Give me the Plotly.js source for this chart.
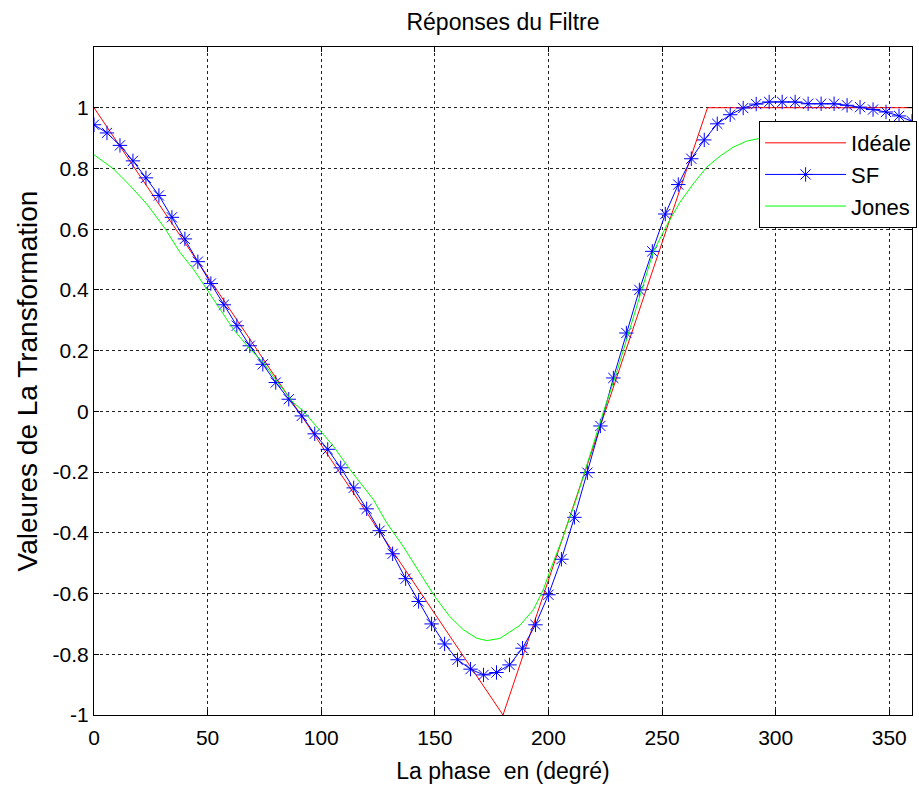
<!DOCTYPE html>
<html>
<head>
<meta charset="utf-8">
<script src="https://cdn.plot.ly/plotly-3.0.1.min.js"></script>
<style>html,body{margin:0;padding:0;background:#fff;}#chart{width:919px;height:789px;}</style>
</head>
<body>
<div id="chart"></div>
<script>
// Phase (degrees) for the ideal response
const idealX = [0, 30, 60, 90, 120, 150, 180, 195, 210, 225, 240, 255, 270, 300, 330, 360];
const idealY = [1, 0.667, 0.333, 0, -0.333, -0.667, -1, -0.667, -0.333, 0, 0.333, 0.667, 1, 1, 1, 1];

// SF series (markers)
const sfX = [0, 5.71, 11.43, 17.14, 22.86, 28.57, 34.29, 40, 45.71, 51.43, 57.14, 62.86, 68.57, 74.29, 80, 85.71,
  91.43, 97.14, 102.86, 108.57, 114.29, 120, 125.71, 131.43, 137.14, 142.86, 148.57, 154.29, 160, 165.71, 171.43, 177.14,
  182.86, 188.57, 194.29, 200, 205.71, 211.43, 217.14, 222.86, 228.57, 234.29, 240, 245.71, 251.43, 257.14, 262.86, 268.57,
  274.29, 280, 285.71, 291.43, 297.14, 302.86, 308.57, 314.29, 320, 325.71, 331.43, 337.14, 342.86, 348.57, 354.29, 360];
const sfY = [0.944, 0.917, 0.876, 0.825, 0.769, 0.711, 0.639, 0.568, 0.493, 0.421, 0.351, 0.282, 0.216, 0.155, 0.095, 0.040,
  -0.015, -0.074, -0.125, -0.186, -0.252, -0.321, -0.393, -0.469, -0.551, -0.626, -0.700, -0.766, -0.818, -0.849, -0.868, -0.860,
  -0.835, -0.780, -0.703, -0.604, -0.487, -0.349, -0.202, -0.048, 0.110, 0.258, 0.400, 0.527, 0.650, 0.747, 0.832, 0.894,
  0.947, 0.977, 0.999, 1.012, 1.019, 1.019, 1.019, 1.013, 1.013, 1.013, 1.008, 1.002, 0.994, 0.986, 0.973, 0.955];

// Jones series
const jonesX = [0, 8.5, 15.8, 23.2, 31.2, 37.8, 43.7, 49.6, 55.4, 61.3, 68.6, 74.5, 80.4, 87.7, 92.1, 99.4, 105.3, 112.6,
  118.5, 122.9, 128.8, 136.1, 143.4, 150.0, 156.6, 162.5, 168.4, 172.8, 178.6, 187.4, 193.3, 197.7, 200.6, 206.5, 212.4,
  218.2, 224.1, 230.0, 235.8, 241.0, 246.1, 252.0, 257.9, 263.7, 269.6, 275.4, 281.3, 287.2, 292.3, 300, 310, 320, 330, 340, 350, 360];
const jonesY = [0.845, 0.799, 0.744, 0.683, 0.603, 0.524, 0.469, 0.403, 0.337, 0.271, 0.205, 0.161, 0.100, 0.029, 0.001, -0.062,
  -0.114, -0.191, -0.246, -0.290, -0.367, -0.445, -0.532, -0.610, -0.676, -0.719, -0.747, -0.755, -0.748, -0.705, -0.654, -0.588,
  -0.527, -0.412, -0.285, -0.147, -0.004, 0.128, 0.271, 0.403, 0.524, 0.612, 0.689, 0.749, 0.804, 0.840, 0.870, 0.890, 0.898,
  0.905, 0.910, 0.910, 0.905, 0.895, 0.880, 0.865];

const xTicks = [0, 50, 100, 150, 200, 250, 300, 350];
const yTicks = [-1, -0.8, -0.6, -0.4, -0.2, 0, 0.2, 0.4, 0.6, 0.8, 1];
const yTickText = ['-1', '-0.8', '-0.6', '-0.4', '-0.2', '0', '0.2', '0.4', '0.6', '0.8', '1'];

const FONT = 'Liberation Sans, Arial, sans-serif';

const traces = [
  {x: idealX, y: idealY, name: 'Idéale', type: 'scatter', mode: 'lines',
   line: {color: 'rgb(255,0,0)', width: 1}},
  {x: sfX, y: sfY, name: 'SF', type: 'scatter', mode: 'lines+markers',
   line: {color: 'rgb(0,0,255)', width: 1},
   marker: {symbol: 'asterisk-open', size: 12, color: 'rgb(0,0,255)', line: {color: 'rgb(0,0,255)', width: 1}}},
  {x: jonesX, y: jonesY, name: 'Jones', type: 'scatter', mode: 'lines',
   line: {color: 'rgb(0,255,0)', width: 1}}
];

const axisCommon = {
  showline: true, linecolor: '#000', linewidth: 1, mirror: 'ticks',
  ticks: 'inside', ticklen: 5, tickcolor: '#000',
  showgrid: true, gridcolor: '#222', griddash: 'dot', gridwidth: 1,
  zeroline: false, automargin: false, tickfont: {family: FONT, size: 21, color: '#000'}
};

const layout = {
  width: 919, height: 789,
  paper_bgcolor: '#fff', plot_bgcolor: '#fff',
  margin: {l: 94, r: 7, t: 47, b: 74, autoexpand: false},
  showlegend: true,
  title: {text: 'Réponses du Filtre', font: {family: FONT, size: 23, color: '#000'},
          x: 0.5, xref: 'paper', y: 0.972, yref: 'container', yanchor: 'middle'},
  xaxis: Object.assign({}, axisCommon, {
    range: [0, 360], tickvals: xTicks, ticktext: xTicks.map(String), ticklabelstandoff: 4,
    title: {text: 'La phase  en (degré)', font: {family: FONT, size: 23, color: '#000'}, standoff: 14}
  }),
  yaxis: Object.assign({}, axisCommon, {
    range: [-1, 1.2], tickvals: yTicks, ticktext: yTickText,
    title: {text: 'Valeures de La Transformation', font: {family: FONT, size: 28, color: '#000'}, standoff: 6}
  }),
  legend: {x: 0.826, y: 0.8466, xref: 'container', yref: 'container', xanchor: 'left', yanchor: 'top',
           bgcolor: '#fff', bordercolor: '#000', borderwidth: 1,
           font: {family: FONT, size: 22, color: '#000'}, itemwidth: 81, tracegroupgap: 0}
};

Plotly.newPlot('chart', traces, layout, {displayModeBar: false, staticPlot: true});
</script>
</body>
</html>
